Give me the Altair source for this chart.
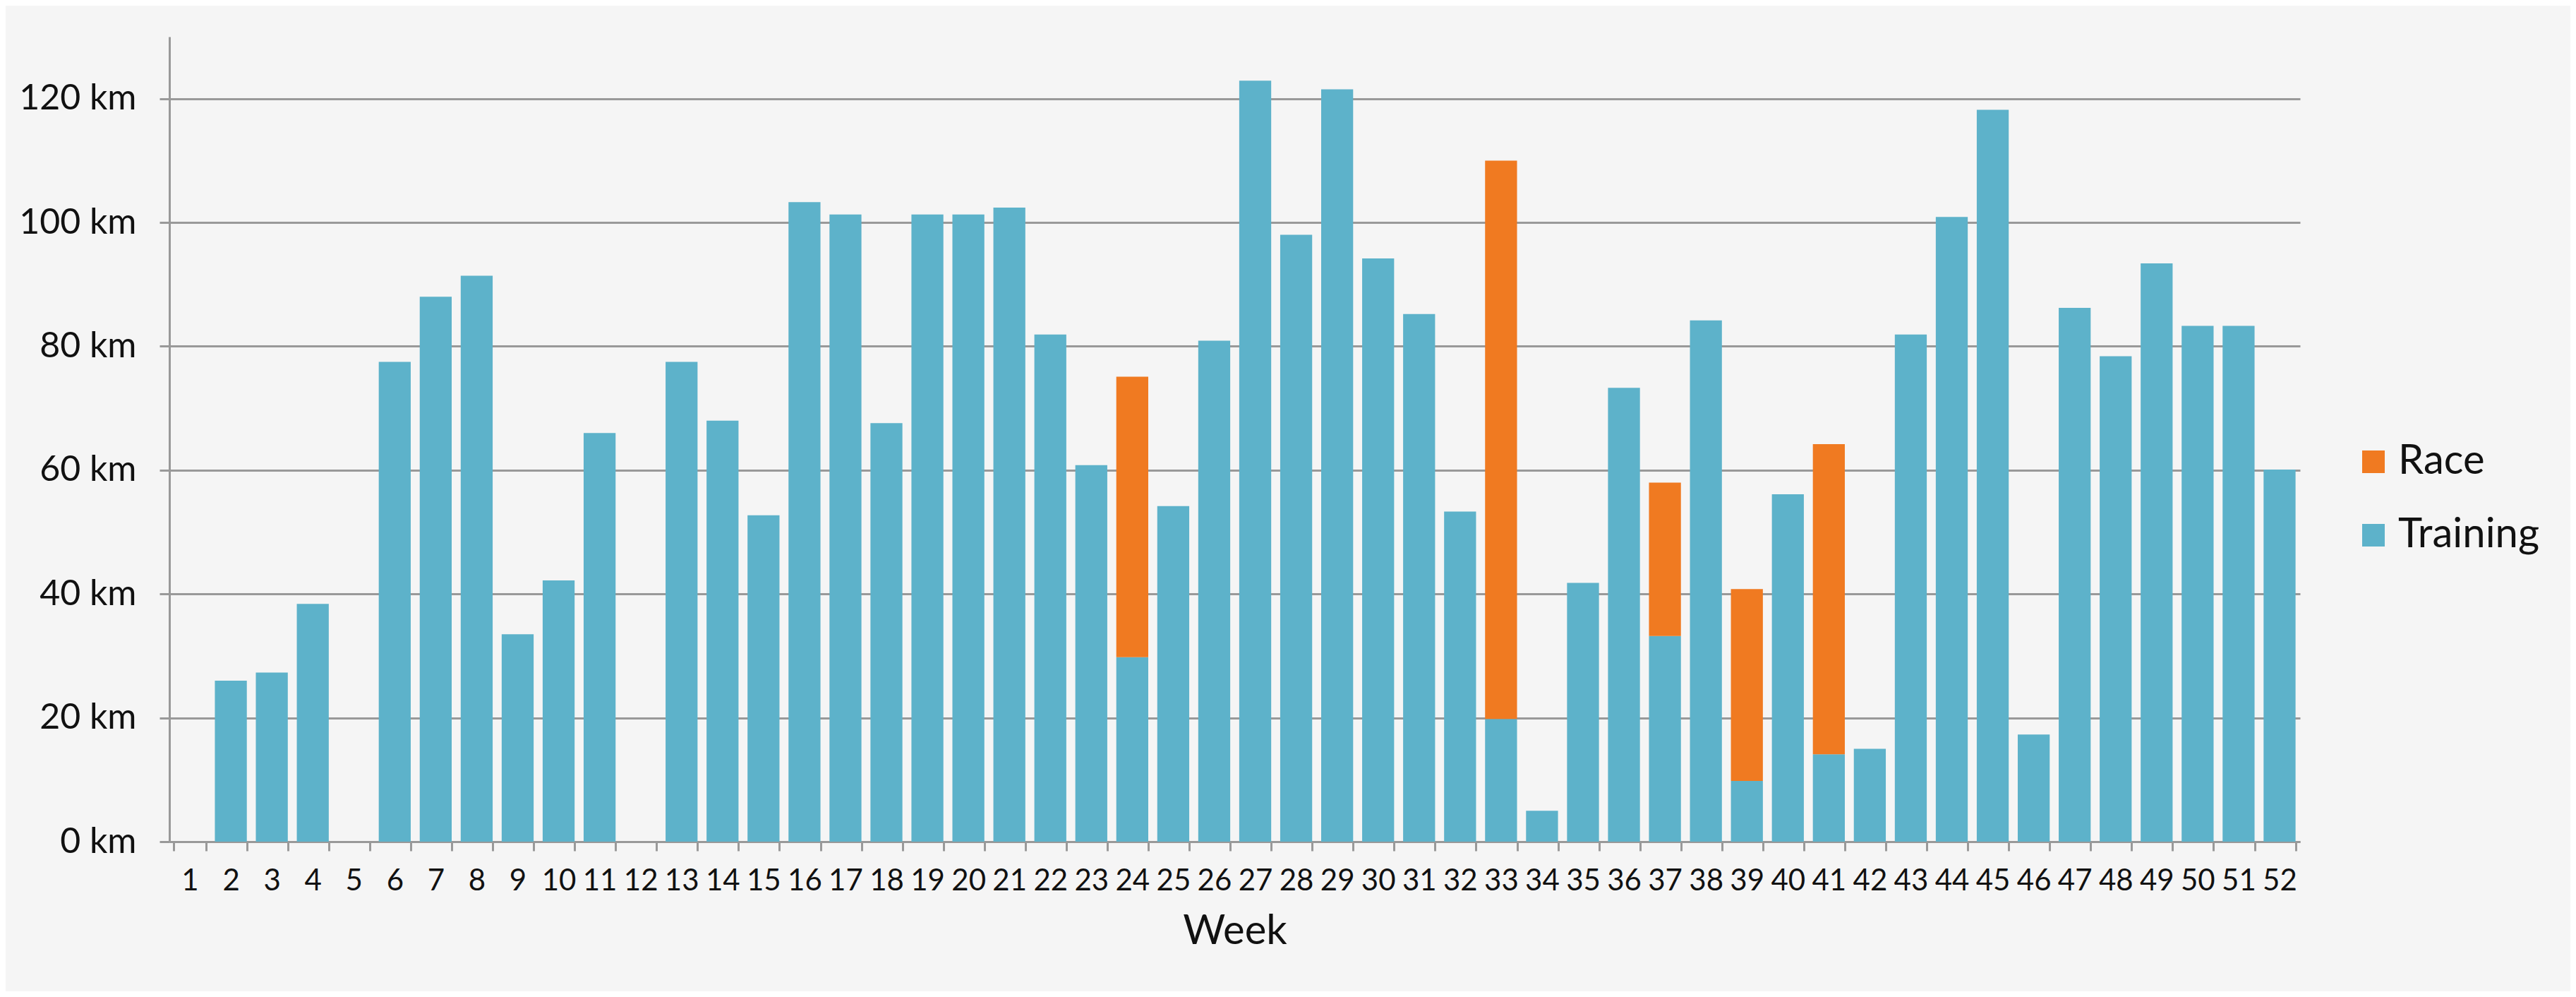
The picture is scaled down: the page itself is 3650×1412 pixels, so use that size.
import altair as alt
import pandas as pd

weeks = list(range(1, 53))
training = [0, 26.0, 27.3, 38.4, 0, 77.5, 88.0, 91.4, 33.5, 42.2,
            66.0, 0, 77.5, 68.0, 52.7, 103.3, 101.3, 67.6, 101.3, 101.3,
            102.4, 81.9, 60.8, 29.8, 54.2, 80.9, 122.9, 98.0, 121.5, 94.2,
            85.2, 53.3, 19.8, 5.0, 41.8, 73.3, 33.2, 84.2, 9.8, 56.1,
            14.1, 15.0, 81.9, 100.9, 118.2, 17.3, 86.2, 78.4, 93.4, 83.3,
            83.3, 60.1]
race_weeks = [24, 33, 37, 39, 41]
race_km = [45.3, 90.2, 24.8, 31.0, 50.1]

series = ["Race", "Training"]
colors = ["#F07A21", "#5DB2CA"]
y_ticks = [0, 20, 40, 60, 80, 100, 120]

rows = []
for w, v in zip(weeks, training):
    rows.append({"week": w, "km": v, "type": "Training", "ord": 0})
for w, v in zip(race_weeks, race_km):
    rows.append({"week": w, "km": v, "type": "Race", "ord": 1})
df = pd.DataFrame(rows)

chart = alt.Chart(df).mark_bar().encode(
    x=alt.X("week:O",
            scale=alt.Scale(domain=weeks, paddingInner=0.22, paddingOuter=0.11),
            axis=alt.Axis(title="Week", labelAngle=0, labelFontSize=42,
                          labelPadding=22, tickSize=13, tickWidth=3,
                          tickColor="#999999", domainColor="#999999",
                          domainWidth=3, tickBand="extent", grid=False,
                          titleFontSize=58, titleFontWeight="normal",
                          titlePadding=22, labelColor="#111111",
                          titleColor="#111111")),
    y=alt.Y("km:Q", stack="zero",
            scale=alt.Scale(domain=[0, 130], nice=False),
            axis=alt.Axis(title=None, values=y_ticks,
                          labelExpr="datum.value + ' km'",
                          labelFontSize=50, labelPadding=33, tickSize=14,
                          tickWidth=3, tickColor="#999999",
                          domainColor="#999999", domainWidth=3,
                          grid=True, gridColor="#999999", gridWidth=3,
                          labelColor="#111111")),
    color=alt.Color("type:N",
                    scale=alt.Scale(domain=series, range=colors),
                    legend=alt.Legend(title=None, orient="none",
                                      legendX=3094, legendY=573,
                                      symbolType="square", symbolSize=1024,
                                      symbolStrokeWidth=0, labelFontSize=58,
                                      labelOffset=6, rowPadding=46,
                                      labelLimit=0,
                                      padding=0, labelColor="#111111")),
    order=alt.Order("ord:Q", sort="ascending"),
).properties(
    width=3019,
    height=1140,
    background="#f5f5f5",
    autosize=alt.AutoSizeParams(type="none"),
    padding={"left": 232, "top": 44, "right": 383, "bottom": 212},
).configure(
    font="Lato",
).configure_view(
    stroke=None,
)

chart.save("out.html", embed_options={"renderer": "svg", "actions": False})
